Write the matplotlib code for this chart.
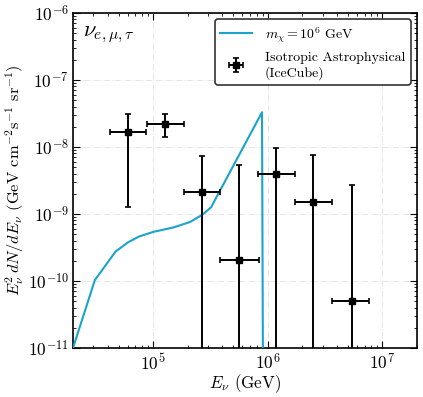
import numpy as np
import matplotlib
matplotlib.use('Agg')
import matplotlib.pyplot as plt

plt.rcParams['font.family'] = 'serif'
plt.rcParams['font.serif'] = ['cmr10', 'DejaVu Serif']
plt.rcParams['mathtext.fontset'] = 'cm'
plt.rcParams['axes.formatter.use_mathtext'] = True

# dark matter decay spectrum, m_chi = 1e6 GeV
e_dm = [2.0e4, 3.1e4, 4.7e4, 6.0e4, 7.5e4, 1.0e5, 1.5e5, 2.1e5, 2.7e5, 3.2e5, 8.9e5, 9.1e5]
flux_dm = [1.0e-11, 1.03e-10, 2.75e-10, 3.75e-10, 4.6e-10, 5.4e-10, 6.3e-10, 7.6e-10, 9.8e-10, 1.26e-9, 3.3e-8, 1.0e-12]

# IceCube isotropic astrophysical flux
e_ic = [6.06e4, 1.27e5, 2.67e5, 5.6e5, 1.19e6, 2.5e6, 5.4e6]
e_lo = [4.2e4, 8.9e4, 1.86e5, 3.85e5, 8.2e5, 1.74e6, 3.6e6]
e_hi = [8.7e4, 1.86e5, 3.8e5, 8.3e5, 1.74e6, 3.6e6, 7.6e6]
f_ic = [1.67e-8, 2.2e-8, 2.1e-9, 2.03e-10, 3.9e-9, 1.53e-9, 5.1e-11]
f_lo = [1.26e-9, 1.4e-8, 1e-13, 1e-13, 1e-13, 1e-13, 1e-13]
f_hi = [3.1e-8, 3.1e-8, 7.4e-9, 5.3e-9, 9.7e-9, 7.5e-9, 2.7e-9]

e_ic = np.array(e_ic)
f_ic = np.array(f_ic)
xerr = [e_ic - np.array(e_lo), np.array(e_hi) - e_ic]
yerr = [f_ic - np.array(f_lo), np.array(f_hi) - f_ic]

fig = plt.figure(figsize=(4.23, 3.97), dpi=100)
ax = fig.add_axes([0.1726, 0.1234, 0.8132, 0.8439])

ax.plot(e_dm, flux_dm, c='#1ca3cc', lw=1.5, label=r'$m_\chi = 10^6$ GeV', zorder=3)
ax.errorbar(e_ic, f_ic, xerr=xerr, yerr=yerr, fmt='s', c='k', ms=4.5, lw=1.4,
            capsize=2.5, capthick=1.2, label='Isotropic Astrophysical\n(IceCube)', zorder=4)

ax.set_xscale('log')
ax.set_yscale('log')
ax.set_xlim(2e4, 2e7)
ax.set_ylim(1e-11, 1e-6)
ax.set_xticks([1e5, 1e6, 1e7])
ax.set_yticks([1e-11, 1e-10, 1e-9, 1e-8, 1e-7, 1e-6])

ax.tick_params(which='both', direction='in', top=True, right=True, labelsize=12.5, pad=3)
ax.tick_params(which='major', length=5, width=0.8)
ax.tick_params(which='minor', length=2.5, width=0.6)
ax.xaxis.set_minor_locator(matplotlib.ticker.LogLocator(base=10, subs=np.arange(2, 10), numticks=20))
ax.yaxis.set_minor_locator(matplotlib.ticker.LogLocator(base=10, subs=np.arange(2, 10), numticks=20))
ax.xaxis.set_minor_formatter(matplotlib.ticker.NullFormatter())
ax.yaxis.set_minor_formatter(matplotlib.ticker.NullFormatter())
ax.grid(which='major', ls='-.', c='#e6e6e6', lw=0.7, zorder=0)
for spi in ['bottom', 'left', 'top', 'right']:
    ax.spines[spi].set_linewidth(1.2)

ax.set_xlabel(r'$E_\nu$ (GeV)', fontsize=12.2, labelpad=0)
ax.set_ylabel(r'$E_\nu^2\, dN/dE_\nu$ (GeV cm$^{-2}$s$^{-1}$ sr$^{-1}$)', fontsize=11.8, labelpad=1)

ax.text(0.03, 0.965, r'$\nu_{e,\mu,\tau}$', transform=ax.transAxes, fontsize=16, va='top', ha='left')

leg = ax.legend(loc='upper right', fontsize=10, frameon=True, fancybox=True,
                edgecolor='#333333', framealpha=1.0, borderpad=0.4, handlelength=2.3,
                handletextpad=0.9, borderaxespad=0.45, labelspacing=0.5)
leg.get_frame().set_linewidth(1.2)

plt.savefig('out.png', dpi=100)
